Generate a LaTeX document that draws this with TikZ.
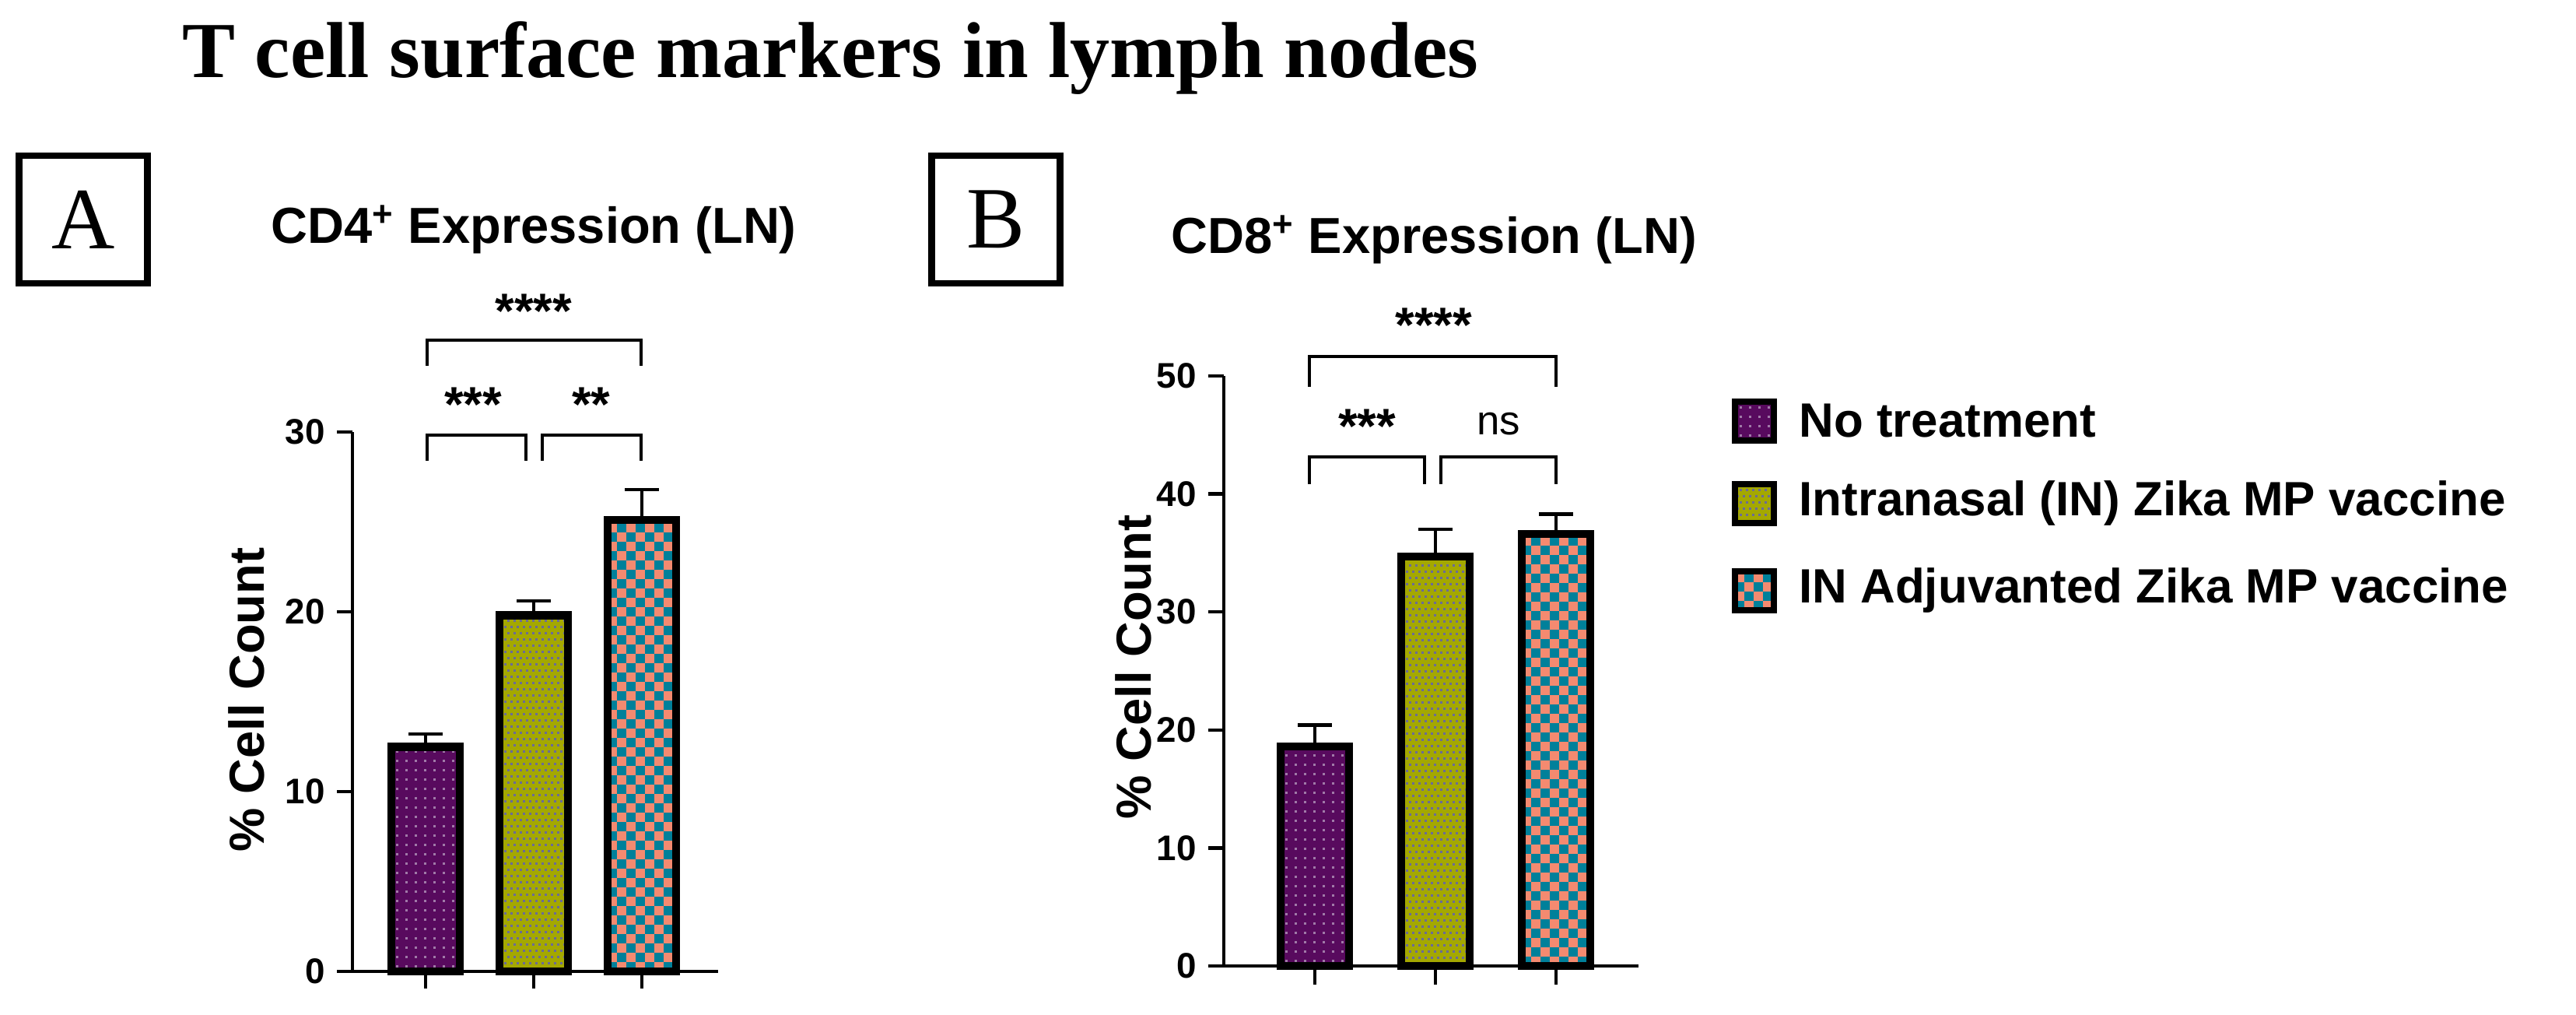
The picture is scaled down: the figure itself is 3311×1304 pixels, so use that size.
\documentclass[tikz,border=0pt]{standalone}
\usepackage{fontspec}
\setmainfont{Liberation Serif}
\newfontfamily\sansf{Liberation Sans}
\definecolor{cpurple}{HTML}{580A5E}
\definecolor{cdot}{HTML}{A07AA8}
\definecolor{colive}{HTML}{A4A800}
\definecolor{cslate}{HTML}{6A6A9A}
\definecolor{cteal}{HTML}{00809A}
\definecolor{csalmon}{HTML}{F48A70}
\newcommand\fillpurple[4]{\begin{scope}\clip (#1,#2) rectangle (#3,#4);
 \fill[cpurple] (#1,#2) rectangle (#3,#4);
 \foreach \i in {0,...,9}{\foreach \j in {0,...,75}{\fill[cdot] ({#1+6+\i*12},{#4-8-\j*12}) rectangle ++(3,3);}}\end{scope}}
\newcommand\fillolive[4]{\begin{scope}\clip (#1,#2) rectangle (#3,#4);
 \fill[colive] (#1,#2) rectangle (#3,#4);
 \foreach \i in {0,...,12}{\foreach \j in {0,...,110}{\pgfmathsetmacro\off{mod(\j,2)*4}\fill[cslate] ({#1+2+\off+\i*8},{#4-4-\j*8}) rectangle ++(3,3);}}\end{scope}}
\newcommand\fillcheck[4]{\begin{scope}\clip (#1,#2) rectangle (#3,#4);
 \fill[csalmon] (#1,#2) rectangle (#3,#4);
 \foreach \i in {0,...,8}{\foreach \j in {0,...,75}{\pgfmathsetmacro\off{mod(\j,2)*12}\fill[cteal] ({#1+\off+\i*24},{#4-\j*12}) rectangle ++(12,-12);}}\end{scope}}
% #1 type #2 xc #3 val #4 err #5 y0 #6 scale
\newcommand\mybar[6]{\pgfmathsetmacro\yt{#5-#6*#3}\pgfmathsetmacro\ye{#5-#6*#4}
 \draw[line width=1.3pt] (#2,\yt) -- (#2,\ye) (#2-22,\ye) -- (#2+22,\ye);
 \csname fill#1\endcsname{#2-44}{\yt}{#2+44}{#5}
 \draw[line width=3pt] (#2-44,#5) rectangle (#2+44,\yt);}
\begin{document}
\begin{tikzpicture}[x=0.01cm,y=-0.01cm,
 ax/.style={line width=1.3pt},
 tl/.style={font=\sansf\bfseries\fontsize{13}{13}\selectfont,anchor=east},
 st/.style={font=\sansf\bfseries\fontsize{18}{18}\selectfont},
 yl/.style={font=\sansf\bfseries\fontsize{18}{18}\selectfont,rotate=90},
 ttl/.style={font=\sansf\bfseries\fontsize{18.5}{19}\selectfont},
 br/.style={line width=1.4pt},
 bx/.style={draw,line width=2.5pt,minimum width=1.65cm,minimum height=1.64cm,inner sep=0pt,font=\fontsize{32}{32}\selectfont},
 lg/.style={font=\sansf\bfseries\fontsize{17.6}{18}\selectfont,anchor=west}]
\useasboundingbox (0,0) rectangle (3311,1304);
\node[font=\bfseries\fontsize{29}{30}\selectfont,anchor=base west] (title) at (222,100) {T cell surface markers in lymph nodes};
\node[bx] (A) at (107,282) {A};
\node[bx] (B) at (1280,282) {B};
\node[ttl] (ta) at (686,295) {CD4\textsuperscript{+} Expression (LN)};
\node[ttl] (tb) at (1843,308) {CD8\textsuperscript{+} Expression (LN)};
% ---- plot A
\draw[ax] (453,555) -- (453,1248) -- (923,1248);
\foreach \v in {0,10,20,30}{\draw[ax] (433,1248-23.1*\v) -- (453,1248-23.1*\v); \node[tl] (la\v) at (430,1248-23.1*\v) {\v};}
\foreach \x in {547,686,825}{\draw[ax] (\x,1248) -- (\x,1270);}
\node[yl] (ya) at (317,899) {\% Cell Count};
\mybar{purple}{547}{12.5}{13.2}{1248}{23.1}
\mybar{olive}{686}{19.8}{20.6}{1248}{23.1}
\mybar{check}{825}{25.1}{26.8}{1248}{23.1}
\draw[br] (549,470) |- (824,437) -- (824,470);
\draw[br] (549,592) |- (676,559) -- (676,592);
\draw[br] (697,592) |- (824,559) -- (824,592);
\node[st] (s1) at (686,400) {****};
\node[st] (s2) at (608,520) {***};
\node[st] (s3) at (760,520) {**};
% ---- plot B
\draw[ax] (1573,483) -- (1573,1241) -- (2106,1241);
\foreach \v in {0,10,20,30,40,50}{\draw[ax] (1553,1241-15.16*\v) -- (1573,1241-15.16*\v); \node[tl] (lb\v) at (1550,1241-15.16*\v) {\v};}
\foreach \x in {1690,1845,2000}{\draw[ax] (\x,1241) -- (\x,1265);}
\node[yl] (yb) at (1457,857) {\% Cell Count};
\mybar{purple}{1690}{18.6}{20.4}{1241}{15.16}
\mybar{olive}{1845}{34.7}{37.0}{1241}{15.16}
\mybar{check}{2000}{36.6}{38.3}{1241}{15.16}
\draw[br] (1683,497) |- (2000,458) -- (2000,497);
\draw[br] (1683,622) |- (1831,587) -- (1831,622);
\draw[br] (1852,622) |- (2000,587) -- (2000,622);
\node[st] (s4) at (1843,418) {****};
\node[st] (s5) at (1757,548) {***};
\node[font=\sansf\fontsize{15}{15}\selectfont] (s6) at (1926,545) {ns};
% ---- legend
\fillpurple{2230}{516}{2280}{566}\draw[line width=2.5pt] (2230,516) rectangle (2280,566);
\fillolive{2230}{622}{2280}{672}\draw[line width=2.5pt] (2230,622) rectangle (2280,672);
\fillcheck{2230}{734}{2280}{784}\draw[line width=2.5pt] (2230,734) rectangle (2280,784);
\node[lg] (l1) at (2300,541) {No treatment};
\node[lg] (l2) at (2300,647) {Intranasal (IN) Zika MP vaccine};
\node[lg] (l3) at (2300,759) {IN Adjuvanted Zika MP vaccine};
\end{tikzpicture}
\end{document}
